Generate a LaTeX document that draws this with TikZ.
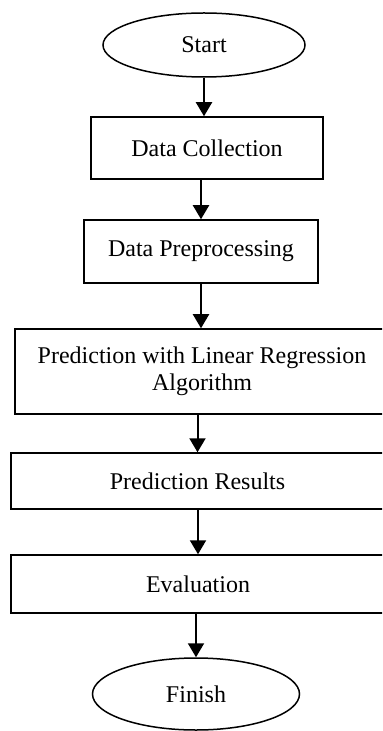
\documentclass[tikz,border=0pt]{standalone}
\usepackage{fontspec}
\setmainfont{Liberation Serif}
\usetikzlibrary{shapes.geometric,arrows.meta}

\newcommand*{\picw}{382}
\newcommand*{\pich}{731}

\begin{document}
\begin{tikzpicture}
[
	terminal/.style={ellipse,draw,line width=0.75pt,inner sep=0pt},
	process/.style={rectangle,draw,line width=0.75pt,inner sep=2pt,align=center},
	flow/.style={-{Triangle[width=8pt,length=7pt]},line width=1pt},
	x=0.5pt,
	y=-0.5pt,
	font=\fontsize{12}{13.5}\selectfont
]

	% page
	\useasboundingbox (0,0) rectangle (\picw,\pich);
	\clip (0,0) rectangle (\picw,\pich);

	% terminals
	\node[terminal,minimum width=101pt,minimum height=32pt] (start) at (204,45) {Start};
	\node[terminal,minimum width=103.5pt,minimum height=36pt] (finish) at (196,694) {Finish};

	% steps
	\node[process,minimum width=116pt,minimum height=31pt] (collect) at (207,148) {Data Collection};
	\node[process,minimum width=117pt,minimum height=31.5pt] (prep) at (201,251.5) {Data Preprocessing};
	\node[process,minimum width=187pt,minimum height=42.5pt] (predict) at (202,371.5) {Prediction with Linear Regression\\Algorithm};
	\node[process,minimum width=186.5pt,minimum height=28pt] (results) at (197.5,481) {Prediction Results};
	\node[process,minimum width=187pt,minimum height=29pt] (eval) at (198,584) {Evaluation};

	% arrows
	\draw[flow] (start.south) -- (start.south |- collect.north);
	\draw[flow] (prep.north |- collect.south) -- (prep.north);
	\draw[flow] (prep.south) -- (prep.south |- predict.north);
	\draw[flow] (results.north |- predict.south) -- (results.north);
	\draw[flow] (eval.north |- results.south) -- (eval.north);
	\draw[flow] (finish.north |- eval.south) -- (finish.north);

\end{tikzpicture}
\end{document}
